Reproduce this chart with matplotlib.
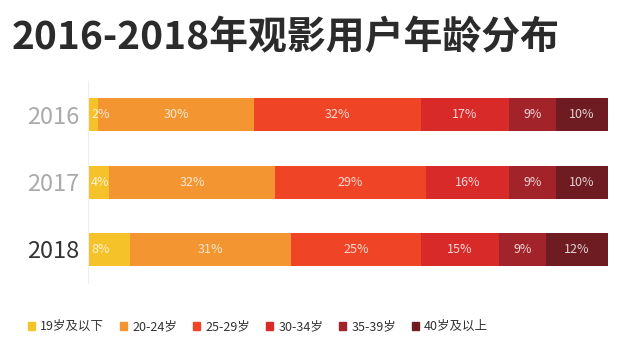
import matplotlib
matplotlib.use("Agg")
import matplotlib.pyplot as plt
from matplotlib.patches import Patch
import numpy as np

plt.rcParams['font.family'] = ['Noto Sans CJK SC', 'DejaVu Sans']

years = ["2016", "2017", "2018"]
groups = ["19岁及以下", "20-24岁", "25-29岁", "30-34岁", "35-39岁", "40岁及以上"]
share_2016 = [2, 30, 32, 17, 9, 10]
share_2017 = [4, 32, 29, 16, 9, 10]
share_2018 = [8, 31, 25, 15, 9, 12]
colors = ["#F6C22A", "#F39530", "#EF4426", "#D92A2A", "#A2242A", "#6E1C21"]

data = np.array([share_2016, share_2017, share_2018])

fig = plt.figure(figsize=(6.39, 3.58), dpi=100)
ax = fig.add_axes([0.1377, 0.2095, 0.8138, 0.5642])

left = np.zeros(len(years))
for j, g in enumerate(groups):
    vals = data[:, j]
    ax.barh(range(len(years)), vals, left=left, height=0.49, color=colors[j], label=g)
    for i, v in enumerate(vals):
        if j == 0:
            ax.text(left[i] + 0.6, i, f"{v}%", ha="left", va="center",
                    fontsize=9, color="white", alpha=0.8, fontweight="medium")
        else:
            ax.text(left[i] + v / 2, i, f"{v}%", ha="center", va="center",
                    fontsize=9, color="white", alpha=0.8, fontweight="medium")
    left += vals

ax.set_xlim(0, 100)
ax.set_ylim(2.5, -0.5)
ax.set_xticks([])
ax.set_yticks(range(len(years)))
ax.set_yticklabels(years)
ax.tick_params(axis="y", length=0, pad=6)
for i, lab in enumerate(ax.get_yticklabels()):
    lab.set_fontsize(17)
    if i == 2:
        lab.set_color("#333333")
        lab.set_fontweight("medium")
    else:
        lab.set_color("#AAAAAA")
        lab.set_fontweight("light")
for s in ["top", "right", "bottom"]:
    ax.spines[s].set_visible(False)
ax.spines["left"].set_color("#EEEEEE")

fig.text(0.018, 0.895, "2016-2018年观影用户年龄分布", fontsize=28, fontweight="bold",
         color="#2B2B2B", va="center", ha="left")

handles = [Patch(color=c) for c in colors]
fig.legend(handles, groups, loc="center left", bbox_to_anchor=(0.026, 0.087), ncol=6,
           frameon=False, fontsize=9, handlelength=0.6, handleheight=0.6,
           handletextpad=0.4, columnspacing=1.25, labelcolor="#333333")

fig.savefig("out.png", dpi=100)
